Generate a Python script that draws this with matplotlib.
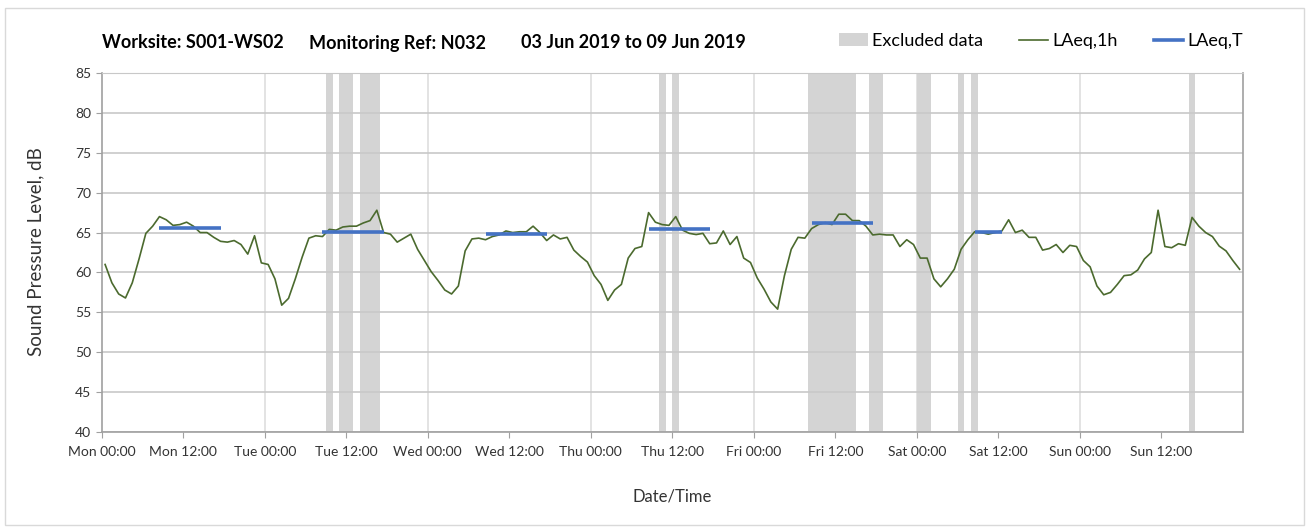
import matplotlib.pyplot as plt
from matplotlib.patches import Patch, Rectangle
from matplotlib.lines import Line2D

plt.rcParams['font.family'] = ['Lato', 'DejaVu Sans']

# hourly LAeq,1h values, Mon 00:00 .. Sun 23:00 (plotted at mid-hour)
laeq_1h = [
    61.0, 58.7, 57.3, 56.8, 58.7, 61.7, 64.9, 65.8, 67.0, 66.6, 65.9, 66.0,
    66.3, 65.8, 65.0, 65.0, 64.4, 63.9, 63.8, 64.0, 63.5, 62.3, 64.6, 61.2,
    61.0, 59.2, 55.9, 56.75, 59.2, 61.9, 64.3, 64.6, 64.5, 65.4, 65.3, 65.7,
    65.8, 65.8, 66.2, 66.5, 67.8, 65.0, 64.8, 63.8, 64.3, 64.8, 62.9, 61.5,
    60.1, 59.0, 57.8, 57.3, 58.3, 62.7, 64.2, 64.3, 64.1, 64.5, 64.7, 65.2,
    65.0, 65.1, 65.1, 65.8, 65.0, 64.0, 64.7, 64.2, 64.4, 62.8, 62.0, 61.3,
    59.6, 58.5, 56.5, 57.8, 58.5, 61.8, 63.0, 63.25, 67.5, 66.3, 66.0, 65.9,
    67.0, 65.3, 64.9, 64.75, 64.9, 63.6, 63.7, 65.2, 63.5, 64.5, 61.8, 61.25,
    59.3, 57.9, 56.3, 55.4, 59.6, 62.9, 64.4, 64.3, 65.5, 66.0, 66.25, 66.0,
    67.3, 67.3, 66.5, 66.5, 65.8, 64.7, 64.8, 64.7, 64.7, 63.25, 64.1, 63.5,
    61.8, 61.8, 59.2, 58.2, 59.2, 60.4, 62.9, 64.1, 65.1, 65.0, 64.8, 65.0,
    65.2, 66.6, 65.0, 65.3, 64.4, 64.4, 62.8, 63.0, 63.5, 62.5, 63.4, 63.25,
    61.5, 60.7, 58.3, 57.2, 57.5, 58.5, 59.6, 59.7, 60.3, 61.7, 62.5, 67.8,
    63.25, 63.1, 63.6, 63.4, 66.9, 65.8, 65.0, 64.5, 63.3, 62.7, 61.5, 60.4,
]

# LAeq,T per working period (hours from Mon 00:00)
laeq_t_start = [8.5, 32.5, 56.5, 80.5, 104.5, 128.5]
laeq_t_end = [17.5, 41.5, 65.5, 89.5, 113.5, 132.5]
laeq_t = [65.6, 65.1, 64.85, 65.5, 66.25, 65.1]

# excluded hours (start, end)
excl_start = [33, 35, 38, 82, 84, 104, 113, 120, 126, 128, 160]
excl_end = [34, 37, 41, 83, 85, 111, 115, 122, 127, 129, 161]

days = ['Mon', 'Tue', 'Wed', 'Thu', 'Fri', 'Sat', 'Sun']
tick_hours = list(range(0, 168, 12))
tick_labels = [f"{days[h // 24]} {'00:00' if h % 24 == 0 else '12:00'}" for h in tick_hours]

hours = [i + 0.5 for i in range(len(laeq_1h))]

W, H = 1309, 529
fig = plt.figure(figsize=(W / 100, H / 100), dpi=100)
ax = fig.add_axes([101.7 / W, 1 - 432 / H, (1243 - 101.7) / W, (432 - 73) / H])

for s, e in zip(excl_start, excl_end):
    ax.axvspan(s, e, color='#d4d4d4', lw=0, zorder=1)

ax.plot(hours, laeq_1h, color='#4b6a2e', lw=1.2, zorder=3)
for s, e, v in zip(laeq_t_start, laeq_t_end, laeq_t):
    ax.plot([s, e], [v, v], color='#4472c4', lw=2.6, zorder=4, solid_capstyle='butt')

ax.set_xlim(0, 168)
ax.set_ylim(40, 85)
ax.set_yticks(range(40, 86, 5))
ax.set_xticks(tick_hours)
ax.set_xticklabels(tick_labels, fontsize=10, color='#333333')
ax.tick_params(axis='y', labelsize=10, colors='#333333', length=4, color='#a0a0a0')
ax.tick_params(axis='x', length=4, color='#a0a0a0', colors='#333333', pad=6)

ax.set_axisbelow('line')
ax.yaxis.grid(True, color='#c8c8c8', lw=1.2)
for d in range(24, 168, 24):
    ax.axvline(d, color='#dedede', lw=1.2, zorder=0.8)

for side in ['left', 'bottom', 'right']:
    ax.spines[side].set_color('#a0a0a0')
    ax.spines[side].set_linewidth(1.2)
ax.spines['top'].set_color('#c8c8c8')

fig.text(36 / W, 1 - 252 / H, 'Sound Pressure Level, dB', fontsize=13.5, color='#333333',
         rotation=90, ha='center', va='center')
fig.text(672 / W, 1 - 497 / H, 'Date/Time', fontsize=12, color='#333333',
         ha='center', va='center')

title_y = 1 - 43 / H
fig.text(102 / W, title_y, 'Worksite: S001-WS02', fontsize=13, fontweight='bold', va='center')
fig.text(309 / W, title_y, 'Monitoring Ref: N032', fontsize=13, fontweight='bold', va='center')
fig.text(521 / W, title_y, '03 Jun 2019 to 09 Jun 2019', fontsize=13, fontweight='bold', va='center')

handles = [Patch(facecolor='#d4d4d4', edgecolor='none'),
           Line2D([], [], color='#4b6a2e', lw=1.2),
           Line2D([], [], color='#4472c4', lw=2.6)]
fig.legend(handles, ['Excluded data', 'LAeq,1h', 'LAeq,T'], loc='center',
           bbox_to_anchor=(1041 / W, 1 - 41 / H), ncol=3, frameon=False,
           fontsize=13, handlelength=1.6, handletextpad=0.25, columnspacing=2.0)

fig.patches.append(Rectangle((5 / W, 4 / H), 1299 / W, 517 / H,
                             transform=fig.transFigure, fill=False,
                             edgecolor='#d9d9d9', lw=1))

fig.savefig('out.png', dpi=100)
